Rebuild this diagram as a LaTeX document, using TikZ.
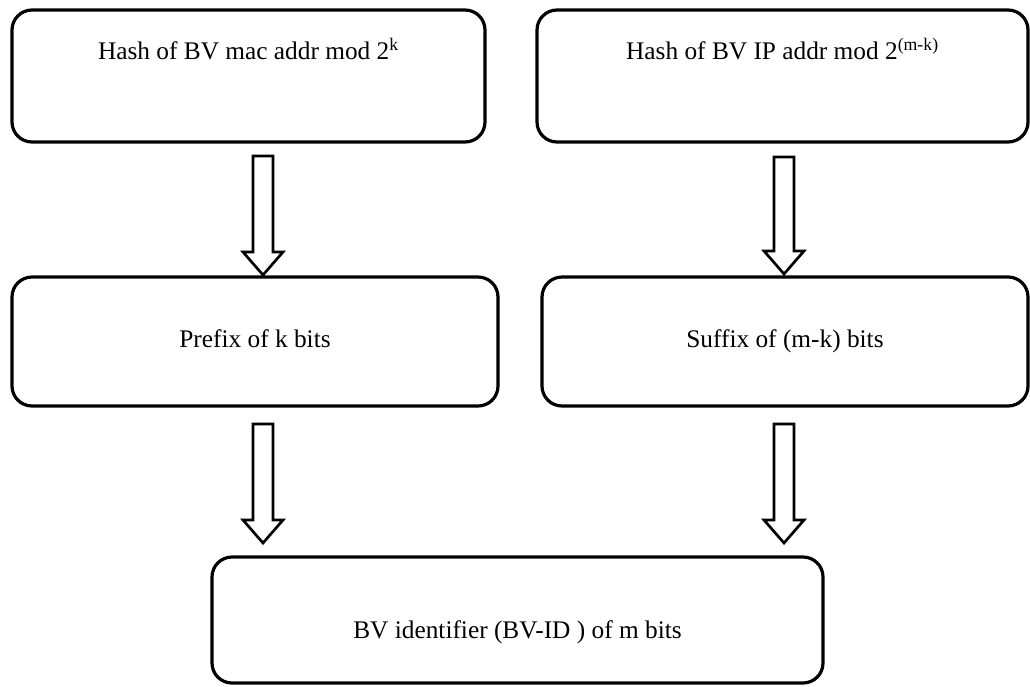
\documentclass[tikz,border=0pt]{standalone}
\usepackage{fontspec}
\setmainfont{Liberation Serif}
\usetikzlibrary{calc, positioning}

\tikzset{
  box/.style={draw, line width=2.4pt, rounded corners=15pt, inner sep=0pt, outer sep=0pt},
  boxtext/.style={font=\fontsize{19}{23}\selectfont, anchor=base, inner sep=0pt},
  hollow/.style={draw, fill=white, line width=2pt, line join=miter},
}

\begin{document}
\begin{tikzpicture}[x=0.75pt, y=-0.75pt]
\def\px{0.75}
\def\shaft{10}
\def\head{20}
\def\headlen{23}

\useasboundingbox (0,0) rectangle (1030,686);

\node[box, minimum width=473*\px pt, minimum height=132*\px pt] (hashmac) at (248.5,76) {};
\node[box, minimum width=491*\px pt, minimum height=132*\px pt] (haship) at (782.5,76) {};
\node[box, minimum width=486*\px pt, minimum height=129*\px pt] (prefix) at (255,341.5) {};
\node[box, minimum width=486*\px pt, minimum height=129*\px pt] (suffix) at (785,341.5) {};
\node[box, minimum width=611*\px pt, minimum height=126*\px pt] (bvid) at (517.5,620) {};

\node[boxtext] (hashmactext) at ($(hashmac.north)+(0,49)$) {Hash of BV mac addr mod 2\textsuperscript{k}};
\node[boxtext] (hashiptext) at ($(haship.north)+(0,49)$) {Hash of BV IP addr mod 2\textsuperscript{(m-k)}};
\node[boxtext] (prefixtext) at ($(prefix.north)+(0,70)$) {Prefix of k bits};
\node[boxtext] (suffixtext) at ($(suffix.north)+(0,70)$) {Suffix of (m-k) bits};
\node[boxtext] (bvidtext) at ($(bvid.north)+(0,81)$) {BV identifier (BV-ID ) of m bits};

\coordinate (leftcol) at (263,0);
\coordinate (rightcol) at (784,0);

\foreach \src/\dst/\col/\gap/\tipgap in {hashmac/prefix/leftcol/14/2, haship/suffix/rightcol/15/3, prefix/bvid/leftcol/18/14, suffix/bvid/rightcol/18/14} {
  \coordinate (arrtop) at ($(\src.south -| \col)+(0,\gap)$);
  \coordinate (arrtip) at ($(\dst.north -| \col)+(0,-\tipgap)$);
  \draw[hollow] ($(arrtop)+(-\shaft,0)$) -- ($(arrtip)+(-\shaft,-\headlen)$) -- ($(arrtip)+(-\head,-\headlen)$) -- (arrtip) -- ($(arrtip)+(\head,-\headlen)$) -- ($(arrtip)+(\shaft,-\headlen)$) -- ($(arrtop)+(\shaft,0)$) -- cycle;
}
\end{tikzpicture}
\end{document}
